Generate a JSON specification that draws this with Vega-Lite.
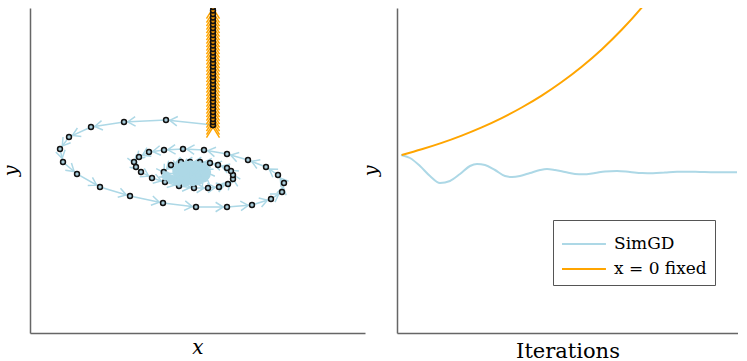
{
  "$schema": "https://vega.github.io/schema/vega-lite/v6.json",
  "padding": {"left": 1, "top": 8, "right": 0, "bottom": 0},
  "background": "white",
  "config": {
    "view": {"stroke": null},
    "axis": {"grid": false, "ticks": false, "labels": false, "domainColor": "#666", "domainWidth": 1.5, "titleFont": "DejaVu Serif", "titleFontWeight": "normal", "titleColor": "#000"}
  },
  "bounds": "flush",
  "spacing": 32,
  "resolve": {"legend": {"color": "independent", "size": "independent", "fill": "independent"}},
  "datasets": {
    "spiral": [
      {"series": "SimGD", "step": 0, "x": 183, "y": 208},
      {"series": "SimGD", "step": 1, "x": 136, "y": 213},
      {"series": "SimGD", "step": 2, "x": 94, "y": 211},
      {"series": "SimGD", "step": 3, "x": 61, "y": 206},
      {"series": "SimGD", "step": 4, "x": 39, "y": 196},
      {"series": "SimGD", "step": 5, "x": 30, "y": 184},
      {"series": "SimGD", "step": 6, "x": 33, "y": 171},
      {"series": "SimGD", "step": 7, "x": 47, "y": 159},
      {"series": "SimGD", "step": 8, "x": 70, "y": 146},
      {"series": "SimGD", "step": 9, "x": 100, "y": 137},
      {"series": "SimGD", "step": 10, "x": 133, "y": 130},
      {"series": "SimGD", "step": 11, "x": 166, "y": 126},
      {"series": "SimGD", "step": 12, "x": 197, "y": 126},
      {"series": "SimGD", "step": 13, "x": 222, "y": 128},
      {"series": "SimGD", "step": 14, "x": 241, "y": 134},
      {"series": "SimGD", "step": 15, "x": 252, "y": 141},
      {"series": "SimGD", "step": 16, "x": 254, "y": 150},
      {"series": "SimGD", "step": 17, "x": 248, "y": 158},
      {"series": "SimGD", "step": 18, "x": 236, "y": 166},
      {"series": "SimGD", "step": 19, "x": 218, "y": 173},
      {"series": "SimGD", "step": 20, "x": 197, "y": 179},
      {"series": "SimGD", "step": 21, "x": 174, "y": 183},
      {"series": "SimGD", "step": 22, "x": 153, "y": 184},
      {"series": "SimGD", "step": 23, "x": 134, "y": 183},
      {"series": "SimGD", "step": 24, "x": 119, "y": 181},
      {"series": "SimGD", "step": 25, "x": 109, "y": 176},
      {"series": "SimGD", "step": 26, "x": 104, "y": 171},
      {"series": "SimGD", "step": 27, "x": 106, "y": 166},
      {"series": "SimGD", "step": 28, "x": 111, "y": 161},
      {"series": "SimGD", "step": 29, "x": 122, "y": 155},
      {"series": "SimGD", "step": 30, "x": 135, "y": 151},
      {"series": "SimGD", "step": 31, "x": 149, "y": 147},
      {"series": "SimGD", "step": 32, "x": 164, "y": 145},
      {"series": "SimGD", "step": 33, "x": 178, "y": 145},
      {"series": "SimGD", "step": 34, "x": 189, "y": 146},
      {"series": "SimGD", "step": 35, "x": 198, "y": 149},
      {"series": "SimGD", "step": 36, "x": 203, "y": 154},
      {"series": "SimGD", "step": 37, "x": 203, "y": 158},
      {"series": "SimGD", "step": 38, "x": 201, "y": 162},
      {"series": "SimGD", "step": 39, "x": 197, "y": 165},
      {"series": "SimGD", "step": 40, "x": 188, "y": 168},
      {"series": "SimGD", "step": 41, "x": 180, "y": 170},
      {"series": "SimGD", "step": 42, "x": 170, "y": 171},
      {"series": "SimGD", "step": 43, "x": 160, "y": 171},
      {"series": "SimGD", "step": 44, "x": 151, "y": 171},
      {"series": "SimGD", "step": 45, "x": 141, "y": 168},
      {"series": "SimGD", "step": 46, "x": 133.8, "y": 161},
      {"series": "SimGD", "step": 47, "x": 136.2, "y": 157.1},
      {"series": "SimGD", "step": 48, "x": 141.2, "y": 153.9},
      {"series": "SimGD", "step": 49, "x": 147.8, "y": 151.8},
      {"series": "SimGD", "step": 50, "x": 155.3, "y": 150.9},
      {"series": "SimGD", "step": 51, "x": 162.6, "y": 151.3},
      {"series": "SimGD", "step": 52, "x": 168.8, "y": 152.8},
      {"series": "SimGD", "step": 53, "x": 173.5, "y": 155.1},
      {"series": "SimGD", "step": 54, "x": 176, "y": 158},
      {"series": "SimGD", "step": 55, "x": 176.5, "y": 161},
      {"series": "SimGD", "step": 56, "x": 174.7, "y": 163.8},
      {"series": "SimGD", "step": 57, "x": 171.4, "y": 165.9},
      {"series": "SimGD", "step": 58, "x": 166.7, "y": 167.4},
      {"series": "SimGD", "step": 59, "x": 161.5, "y": 168},
      {"series": "SimGD", "step": 60, "x": 156.5, "y": 167.7},
      {"series": "SimGD", "step": 61, "x": 152.2, "y": 166.6},
      {"series": "SimGD", "step": 62, "x": 148.9, "y": 165},
      {"series": "SimGD", "step": 63, "x": 147.1, "y": 163.1},
      {"series": "SimGD", "step": 64, "x": 146.9, "y": 161},
      {"series": "SimGD", "step": 65, "x": 148.1, "y": 159},
      {"series": "SimGD", "step": 66, "x": 150.5, "y": 157.5},
      {"series": "SimGD", "step": 67, "x": 153.6, "y": 156.5},
      {"series": "SimGD", "step": 68, "x": 157.2, "y": 156.2},
      {"series": "SimGD", "step": 69, "x": 160.7, "y": 156.4},
      {"series": "SimGD", "step": 70, "x": 163.7, "y": 157.1},
      {"series": "SimGD", "step": 71, "x": 166, "y": 158.2},
      {"series": "SimGD", "step": 72, "x": 167.2, "y": 159.6},
      {"series": "SimGD", "step": 73, "x": 167.4, "y": 161},
      {"series": "SimGD", "step": 74, "x": 166.6, "y": 162.3},
      {"series": "SimGD", "step": 75, "x": 164.9, "y": 163.4},
      {"series": "SimGD", "step": 76, "x": 162.7, "y": 164.1},
      {"series": "SimGD", "step": 77, "x": 160.2, "y": 164.3},
      {"series": "SimGD", "step": 78, "x": 157.8, "y": 164.2},
      {"series": "SimGD", "step": 79, "x": 155.8, "y": 163.8},
      {"series": "SimGD", "step": 80, "x": 154.2, "y": 163},
      {"series": "SimGD", "step": 81, "x": 153.4, "y": 162},
      {"series": "SimGD", "step": 82, "x": 153.2, "y": 161},
      {"series": "x = 0 fixed", "step": 0, "x": 183, "y": 208},
      {"series": "x = 0 fixed", "step": 1, "x": 183, "y": 211},
      {"series": "x = 0 fixed", "step": 2, "x": 183, "y": 214},
      {"series": "x = 0 fixed", "step": 3, "x": 183, "y": 217.5},
      {"series": "x = 0 fixed", "step": 4, "x": 183, "y": 221},
      {"series": "x = 0 fixed", "step": 5, "x": 183, "y": 224.5},
      {"series": "x = 0 fixed", "step": 6, "x": 183, "y": 228},
      {"series": "x = 0 fixed", "step": 7, "x": 183, "y": 231.5},
      {"series": "x = 0 fixed", "step": 8, "x": 183, "y": 235},
      {"series": "x = 0 fixed", "step": 9, "x": 183, "y": 238.5},
      {"series": "x = 0 fixed", "step": 10, "x": 183, "y": 242},
      {"series": "x = 0 fixed", "step": 11, "x": 183, "y": 245.5},
      {"series": "x = 0 fixed", "step": 12, "x": 183, "y": 249},
      {"series": "x = 0 fixed", "step": 13, "x": 183, "y": 252.5},
      {"series": "x = 0 fixed", "step": 14, "x": 183, "y": 256},
      {"series": "x = 0 fixed", "step": 15, "x": 183, "y": 259.5},
      {"series": "x = 0 fixed", "step": 16, "x": 183, "y": 263},
      {"series": "x = 0 fixed", "step": 17, "x": 183, "y": 266.5},
      {"series": "x = 0 fixed", "step": 18, "x": 183, "y": 270},
      {"series": "x = 0 fixed", "step": 19, "x": 183, "y": 273.5},
      {"series": "x = 0 fixed", "step": 20, "x": 183, "y": 277},
      {"series": "x = 0 fixed", "step": 21, "x": 183, "y": 280.5},
      {"series": "x = 0 fixed", "step": 22, "x": 183, "y": 284},
      {"series": "x = 0 fixed", "step": 23, "x": 183, "y": 287.5},
      {"series": "x = 0 fixed", "step": 24, "x": 183, "y": 291},
      {"series": "x = 0 fixed", "step": 25, "x": 183, "y": 294.5},
      {"series": "x = 0 fixed", "step": 26, "x": 183, "y": 298},
      {"series": "x = 0 fixed", "step": 27, "x": 183, "y": 301.5},
      {"series": "x = 0 fixed", "step": 28, "x": 183, "y": 305},
      {"series": "x = 0 fixed", "step": 29, "x": 183, "y": 308.5},
      {"series": "x = 0 fixed", "step": 30, "x": 183, "y": 312},
      {"series": "x = 0 fixed", "step": 31, "x": 183, "y": 315.5},
      {"series": "x = 0 fixed", "step": 32, "x": 183, "y": 319},
      {"series": "x = 0 fixed", "step": 33, "x": 183, "y": 322.5},
      {"series": "x = 0 fixed", "step": 34, "x": 183, "y": 326},
      {"series": "x = 0 fixed", "step": 35, "x": 183, "y": 330}
    ],
    "curves": [
      {"series": "SimGD", "t": 4, "y": 178},
      {"series": "SimGD", "t": 13, "y": 175},
      {"series": "SimGD", "t": 23, "y": 167},
      {"series": "SimGD", "t": 33, "y": 157},
      {"series": "SimGD", "t": 43, "y": 150},
      {"series": "SimGD", "t": 53, "y": 152},
      {"series": "SimGD", "t": 63, "y": 159},
      {"series": "SimGD", "t": 73, "y": 167},
      {"series": "SimGD", "t": 80, "y": 169},
      {"series": "SimGD", "t": 88, "y": 168},
      {"series": "SimGD", "t": 98, "y": 163},
      {"series": "SimGD", "t": 108, "y": 157},
      {"series": "SimGD", "t": 115, "y": 156},
      {"series": "SimGD", "t": 123, "y": 157},
      {"series": "SimGD", "t": 133, "y": 160},
      {"series": "SimGD", "t": 143, "y": 163},
      {"series": "SimGD", "t": 150, "y": 164},
      {"series": "SimGD", "t": 158, "y": 163},
      {"series": "SimGD", "t": 168, "y": 161},
      {"series": "SimGD", "t": 178, "y": 159},
      {"series": "SimGD", "t": 186, "y": 158.7},
      {"series": "SimGD", "t": 198, "y": 160},
      {"series": "SimGD", "t": 208, "y": 161.5},
      {"series": "SimGD", "t": 220, "y": 162},
      {"series": "SimGD", "t": 233, "y": 161},
      {"series": "SimGD", "t": 245, "y": 160},
      {"series": "SimGD", "t": 256, "y": 159.7},
      {"series": "SimGD", "t": 268, "y": 160.5},
      {"series": "SimGD", "t": 280, "y": 161.3},
      {"series": "SimGD", "t": 290, "y": 161.3},
      {"series": "SimGD", "t": 303, "y": 161},
      {"series": "SimGD", "t": 318, "y": 160.7},
      {"series": "SimGD", "t": 340, "y": 160.7},
      {"series": "x = 0 fixed", "t": 4.7, "y": 178},
      {"series": "x = 0 fixed", "t": 24.7, "y": 183.7},
      {"series": "x = 0 fixed", "t": 44.7, "y": 190.1},
      {"series": "x = 0 fixed", "t": 64.7, "y": 197.4},
      {"series": "x = 0 fixed", "t": 84.7, "y": 205.6},
      {"series": "x = 0 fixed", "t": 104.7, "y": 214.9},
      {"series": "x = 0 fixed", "t": 124.7, "y": 225.5},
      {"series": "x = 0 fixed", "t": 144.7, "y": 237.4},
      {"series": "x = 0 fixed", "t": 164.7, "y": 251},
      {"series": "x = 0 fixed", "t": 184.7, "y": 266.3},
      {"series": "x = 0 fixed", "t": 204.7, "y": 283.6},
      {"series": "x = 0 fixed", "t": 224.7, "y": 303.2},
      {"series": "x = 0 fixed", "t": 244.7, "y": 325.4},
      {"series": "x = 0 fixed", "t": 254.7, "y": 337.6}
    ]
  },
  "hconcat": [
    {
      "width": 335,
      "height": 325,
      "data": {"name": "spiral"},
      "encoding": {
        "x": {"field": "x", "type": "quantitative", "scale": {"domain": [0, 335], "nice": false, "zero": false}, "axis": {"title": "x", "titleFontStyle": "italic", "titleFontSize": 20, "titlePadding": 4}},
        "y": {"field": "y", "type": "quantitative", "scale": {"domain": [0, 325], "nice": false, "zero": false}, "axis": {"title": "y", "titleFontStyle": "italic", "titleFontSize": 19, "titlePadding": 10}},
        "color": {"field": "series", "type": "nominal", "scale": {"domain": ["SimGD", "x = 0 fixed"], "range": ["#ADD8E6", "#FFA500"]}, "legend": null}
      },
      "layer": [
        {
          "mark": {"type": "line", "strokeWidth": 1.5, "clip": true},
          "encoding": {"order": {"field": "step", "type": "quantitative"}, "detail": {"field": "series"}}
        },
        {
          "transform": [
            {"window": [{"op": "lag", "field": "x", "as": "x0"}, {"op": "lag", "field": "y", "as": "y0"}], "sort": [{"field": "step", "order": "ascending"}], "groupby": ["series"]},
            {"filter": "datum.x0 != null"},
            {"calculate": "atan2(datum.y0 - datum.y, datum.x - datum.x0) * 180 / PI", "as": "ang"}
          ],
          "mark": {"type": "point", "shape": "M-2.4,-1L-0.8,0L-2.4,1", "filled": false, "strokeWidth": 1.5, "clip": true, "opacity": 1},
          "encoding": {
            "angle": {"field": "ang", "type": "quantitative", "scale": null},
            "size": {"field": "series", "type": "nominal", "scale": {"domain": ["SimGD", "x = 0 fixed"], "range": [90, 170]}, "legend": null}
          }
        },
        {
          "mark": {"type": "point", "shape": "circle", "filled": true, "strokeWidth": 1.5, "size": 24, "clip": true, "opacity": 1},
          "encoding": {
            "fill": {"field": "series", "type": "nominal", "scale": {"domain": ["SimGD", "x = 0 fixed"], "range": ["#A8CCDA", "#E08A00"]}, "legend": null},
            "stroke": {"value": "#111111"}
          }
        },
        {
          "transform": [{"filter": "datum.series == 'SimGD' && datum.step >= 47"}],
          "mark": {"type": "point", "shape": "circle", "filled": true, "size": 85, "clip": true, "opacity": 1, "strokeWidth": 0},
          "encoding": {"color": {"value": "#ADD8E6"}}
        }
      ]
    },
    {
      "width": 341,
      "height": 325,
      "data": {"name": "curves"},
      "mark": {"type": "line", "strokeWidth": 2, "interpolate": "monotone", "clip": true},
      "encoding": {
        "x": {"field": "t", "type": "quantitative", "scale": {"domain": [0, 341], "nice": false, "zero": false}, "axis": {"title": "Iterations", "titleFontSize": 21, "titlePadding": 7}},
        "y": {"field": "y", "type": "quantitative", "scale": {"domain": [0, 325], "nice": false, "zero": false}, "axis": {"title": "y", "titleFontStyle": "italic", "titleFontSize": 19, "titlePadding": 17}},
        "color": {
          "field": "series", "type": "nominal",
          "scale": {"domain": ["SimGD", "x = 0 fixed"], "range": ["#ADD8E6", "#FFA500"]},
          "legend": {"title": null, "orient": "none", "legendX": 156, "legendY": 212, "direction": "vertical", "strokeColor": "#555", "fillColor": "white", "padding": 8, "symbolType": "M-1,0L1.93,0", "symbolSize": 900, "symbolStrokeWidth": 2, "labelFont": "DejaVu Serif", "labelFontSize": 17, "labelColor": "#000", "labelOffset": 21, "rowPadding": 1, "cornerRadius": 0}
        }
      }
    }
  ]
}
